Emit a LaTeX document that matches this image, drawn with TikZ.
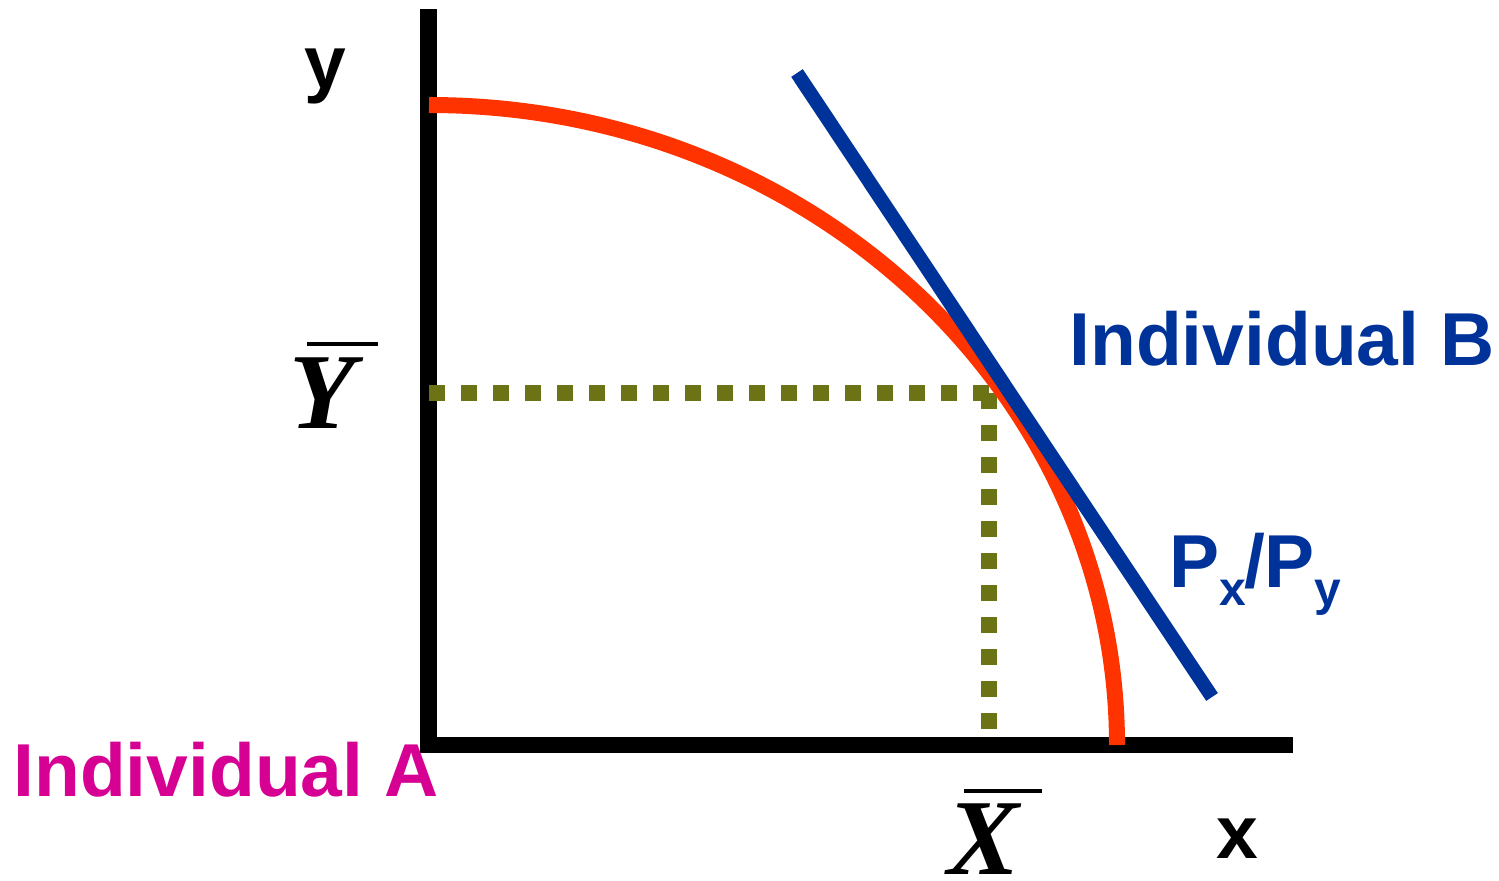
\documentclass[tikz,border=0pt]{standalone}
\usepackage{fontspec}
\setmainfont{Liberation Sans}
\newfontfamily\timesf{Liberation Serif}
\definecolor{curvered}{RGB}{255,51,0}
\definecolor{lineblue}{RGB}{0,51,153}
\definecolor{dotolive}{RGB}{107,115,20}
\definecolor{labmag}{RGB}{214,0,147}
\tikzset{
  axisline/.style={line width=8.5pt, black},
  guide/.style={line width=8pt, dotolive, dash pattern=on 8pt off 8pt},
  ppf/.style={line width=8pt, curvered},
  budget/.style={line width=7pt, lineblue},
  lab/.style={inner sep=0pt, font=\fontsize{37.5}{40}\selectfont\bfseries},
  barlab/.style={inner sep=0pt, font=\timesf\fontsize{54}{56}\selectfont\bfseries\itshape},
  barline/.style={line width=2pt, black},
}
\begin{document}
\begin{tikzpicture}[x=0.5pt,y=-0.5pt]
\useasboundingbox (0,0) rectangle (1499,880);
% axes
\coordinate (ytop) at (428.5,9);
\coordinate (origin) at (428.5,745);
\coordinate (ybot) at (428.5,753);
\coordinate (xend) at (1293,745);
\draw[axisline] (ytop) -- (ybot);
\draw[axisline, line width=8pt] (origin) -- (xend);
% guides
\coordinate (gy) at (429,393);
\coordinate (gc) at (989,393);
\coordinate (gx) at (989,729);
\draw[guide] (gy) -- (gc);
\draw[guide] (gc) -- (gx);
% curve
\coordinate (ctop) at (429,105);
\draw[ppf] (ctop) arc[start angle=-90, end angle=0, x radius=688, y radius=640];
% budget line
\coordinate (bt) at (797,73);
\coordinate (bb) at (1212,697);
\draw[budget] (bt) -- (bb);
% labels
\node[lab, anchor=base] (ylab) at (325,88) {y};
\node[lab, anchor=base] (xlab) at (1237,858) {x};
\node[lab, anchor=base west, lineblue] (indB) at (1069,365) {Individual B};
\node[lab, anchor=base west, labmag] (indA) at (13,796) {Individual A};
\node[lab, anchor=base west, lineblue] (pxpy) at (1169,587)
  {P\raisebox{-9pt}{\fontsize{24}{26}\selectfont x}\kern-1pt/P\raisebox{-9pt}{\fontsize{24}{26}\selectfont y}};
\node[barlab, anchor=base west] (Ybar) at (289,428) {Y};
\node[barlab, anchor=base west] (Xbar) at (947,874) {X};
\draw[barline] (307,344) -- (378,344);
\draw[barline] (964,791) -- (1042,791);
\end{tikzpicture}
\end{document}
